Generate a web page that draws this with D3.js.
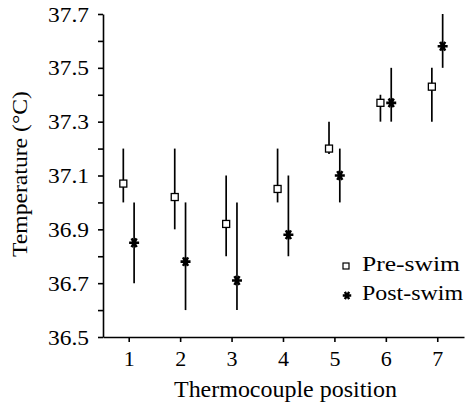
<!DOCTYPE html>
<html>
<head>
<meta charset="utf-8">
<script src="https://cdn.jsdelivr.net/npm/d3@7"></script>
<style>
  body { margin: 0; background: #fff; }
</style>
</head>
<body>
<div id="chart"></div>
<script>
// thermocouple positions 1..7
var positions = [1, 2, 3, 4, 5, 6, 7];

// pre-swim mean and error range
var preMean = [37.07, 37.02, 36.92, 37.05, 37.20, 37.37, 37.43];
var preLow  = [37.00, 36.90, 36.80, 37.00, 37.18, 37.30, 37.30];
var preHigh = [37.20, 37.20, 37.10, 37.20, 37.30, 37.40, 37.50];

// post-swim mean and error range
var postMean = [36.85, 36.78, 36.71, 36.88, 37.10, 37.37, 37.58];
var postLow  = [36.70, 36.60, 36.60, 36.80, 37.00, 37.30, 37.50];
var postHigh = [37.00, 37.00, 37.00, 37.10, 37.20, 37.50, 37.70];

var yTicks = [36.5, 36.6, 36.7, 36.8, 36.9, 37.0, 37.1, 37.2, 37.3, 37.4, 37.5, 37.6, 37.7];
var yLabels = [36.5, 36.7, 36.9, 37.1, 37.3, 37.5, 37.7];

var font = "Liberation Serif";

var svgWidth = 465;
var svgHeight = 406;

var margin = { top: 14, right: 1, bottom: 69, left: 103 };
var width = svgWidth - margin.left - margin.right;
var height = svgHeight - margin.top - margin.bottom;

var svg = d3.select("#chart")
  .append("svg")
  .attr("width", svgWidth)
  .attr("height", svgHeight)
  .attr("font-family", font);

var chartGroup = svg.append("g")
  .attr("transform", `translate(${margin.left}, ${margin.top})`);

var x = d3.scaleLinear().domain([0.5, 7.52]).range([0, width]);
var y = d3.scaleLinear().domain([36.5, 37.7]).range([height, 0]);

// axes
var bottomAxis = d3.axisBottom(x)
  .tickValues(positions)
  .tickSize(5)
  .tickSizeOuter(0)
  .tickPadding(8)
  .tickFormat(d3.format("d"));

var leftAxis = d3.axisLeft(y)
  .tickValues(yTicks)
  .tickSize(5)
  .tickSizeOuter(0)
  .tickPadding(9)
  .tickFormat(d => yLabels.some(v => Math.abs(v - d) < 1e-6) ? d3.format(".1f")(d) : "");

var xg = chartGroup.append("g")
  .attr("transform", `translate(0, ${height})`)
  .call(bottomAxis);

var yg = chartGroup.append("g")
  .call(leftAxis);

[xg, yg].forEach(function(g) {
  g.attr("font-family", font).attr("font-size", 22);
  g.selectAll("path, line").attr("stroke", "#000").attr("stroke-width", 1.6);
  g.selectAll("text").attr("fill", "#000");
});
yg.selectAll("text")
  .filter(function() { return this.textContent !== ""; })
  .attr("textLength", 41)
  .attr("lengthAdjust", "spacingAndGlyphs");

var offset = 0.105;

var pre = positions.map((p, i) => ({ p: p - offset, m: preMean[i], lo: preLow[i], hi: preHigh[i] }));
var post = positions.map((p, i) => ({ p: p + offset, m: postMean[i], lo: postLow[i], hi: postHigh[i] }));

// error bars
chartGroup.selectAll(".bar")
  .data(pre.concat(post))
  .enter()
  .append("line")
  .attr("x1", d => x(d.p))
  .attr("x2", d => x(d.p))
  .attr("y1", d => y(d.lo))
  .attr("y2", d => y(d.hi))
  .attr("stroke", "#000")
  .attr("stroke-width", 1.7);

// pre-swim open squares
chartGroup.selectAll(".pre")
  .data(pre)
  .enter()
  .append("rect")
  .attr("x", d => x(d.p) - 3.5)
  .attr("y", d => y(d.m) - 3.5)
  .attr("width", 7)
  .attr("height", 7)
  .attr("fill", "#fff")
  .attr("stroke", "#000")
  .attr("stroke-width", 1.3);

// post-swim asterisks
var star = d3.symbol().type(d3.symbolAsterisk).size(70);
chartGroup.selectAll(".post")
  .data(post)
  .enter()
  .append("path")
  .attr("d", star)
  .attr("transform", d => `translate(${x(d.p)}, ${y(d.m)}) rotate(90)`)
  .attr("fill", "none")
  .attr("stroke", "#000")
  .attr("stroke-width", 2.6);

// legend
var legend = svg.append("g");
legend.append("rect")
  .attr("x", 343).attr("y", 263).attr("width", 6).attr("height", 6)
  .attr("fill", "#fff").attr("stroke", "#000").attr("stroke-width", 1.2);
legend.append("text").attr("x", 362).attr("y", 271)
  .attr("font-size", 22).attr("fill", "#000")
  .attr("textLength", 98).attr("lengthAdjust", "spacingAndGlyphs")
  .text("Pre-swim");
legend.append("path")
  .attr("d", d3.symbol().type(d3.symbolAsterisk).size(50))
  .attr("transform", "translate(347, 295.5) rotate(90)")
  .attr("fill", "none").attr("stroke", "#000").attr("stroke-width", 2.4);
legend.append("text").attr("x", 362).attr("y", 299.5)
  .attr("font-size", 22).attr("fill", "#000")
  .attr("textLength", 101).attr("lengthAdjust", "spacingAndGlyphs")
  .text("Post-swim");

// axis titles
svg.append("text")
  .attr("x", 285.5)
  .attr("y", 397)
  .attr("text-anchor", "middle")
  .attr("font-size", 23)
  .attr("fill", "#000")
  .attr("textLength", 223)
  .attr("lengthAdjust", "spacingAndGlyphs")
  .text("Thermocouple position");

svg.append("text")
  .attr("transform", "rotate(-90)")
  .attr("x", -174)
  .attr("y", 27)
  .attr("text-anchor", "middle")
  .attr("font-size", 22)
  .attr("fill", "#000")
  .attr("textLength", 166)
  .attr("lengthAdjust", "spacingAndGlyphs")
  .text("Temperature (°C)");
</script>
</body>
</html>
